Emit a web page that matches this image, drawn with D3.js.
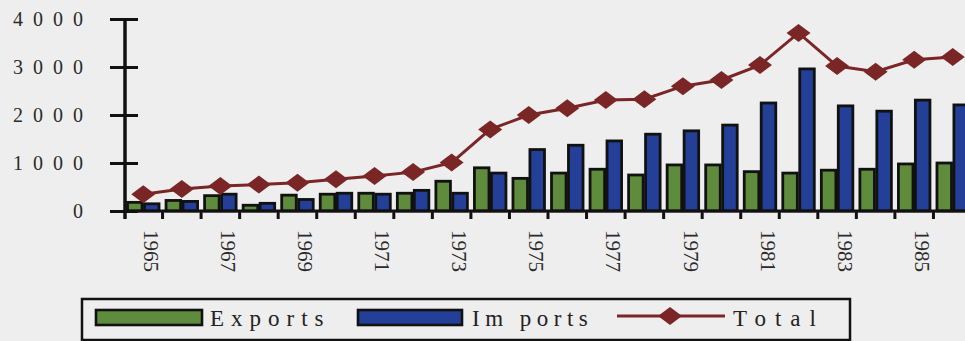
<!DOCTYPE html>
<html>
<head>
<meta charset="utf-8">
<script src="https://cdn.jsdelivr.net/npm/d3@7"></script>
<style>
  html, body { margin: 0; padding: 0; background: #eeeeee; }
  svg { display: block; }
</style>
</head>
<body>
<script>
var years = [1965, 1966, 1967, 1968, 1969, 1970, 1971, 1972, 1973, 1974, 1975,
             1976, 1977, 1978, 1979, 1980, 1981, 1982, 1983, 1984, 1985, 1986];
var exportsData = [180, 220, 320, 120, 330, 350, 370, 370, 620, 900, 680,
                   790, 870, 750, 960, 960, 820, 790, 850, 870, 980, 1000];
var importsData = [150, 200, 350, 160, 240, 370, 350, 430, 370, 790, 1280,
                   1370, 1460, 1600, 1670, 1790, 2250, 2960, 2190, 2080, 2310, 2210];
var totalData = [350, 460, 520, 550, 590, 660, 730, 810, 1010, 1700, 2000,
                 2140, 2310, 2330, 2600, 2730, 3040, 3710, 3020, 2900, 3150, 3210];
var yTicks = [0, 1000, 2000, 3000, 4000];
var seriesNames = ["Exports", "Imports"];
var legendLabels = ["Exports", "Im ports", "Total"];

var width = 965;
var height = 341;
var green = "#5f8c3c";
var blue = "#233f98";
var red = "#7a2626";

var svg = d3.select("body").append("svg")
	.attr("width", width)
	.attr("height", height);

var x0 = d3.scaleBand()
	.domain(years)
	.range([124, 972])
	.paddingInner(0.12)
	.paddingOuter(0.06);

var x1 = d3.scaleBand()
	.domain(seriesNames)
	.range([0, x0.bandwidth()]);

var y = d3.scaleLinear()
	.domain([0, 4000])
	.range([211, 19]);

var step = x0.step();

// bars
var groups = svg.selectAll("g.year")
	.data(years)
	.enter()
	.append("g")
	.attr("class", "year")
	.attr("transform", function(d) { return "translate(" + x0(d) + ",0)"; });

groups.selectAll("rect")
	.data(function(d, i) {
		return [
			{ key: "Exports", value: exportsData[i] },
			{ key: "Imports", value: importsData[i] }
		];
	})
	.enter()
	.append("rect")
	.attr("x", function(d) { return x1(d.key) + 1.2; })
	.attr("y", function(d) { return y(d.value); })
	.attr("width", x1.bandwidth() - 2.4)
	.attr("height", function(d) { return y(0) - y(d.value); })
	.attr("fill", function(d) { return d.key === "Exports" ? green : blue; })
	.attr("stroke", "#111")
	.attr("stroke-width", 2.8);

// x axis line and ticks between categories
svg.append("line")
	.attr("x1", 124).attr("x2", width)
	.attr("y1", y(0)).attr("y2", y(0))
	.attr("stroke", "#111")
	.attr("stroke-width", 3);

svg.selectAll("line.xtick")
	.data(years)
	.enter()
	.append("line")
	.attr("class", "xtick")
	.attr("x1", function(d) { return x0(d) + x0.bandwidth() + step * 0.06; })
	.attr("x2", function(d) { return x0(d) + x0.bandwidth() + step * 0.06; })
	.attr("y1", y(0))
	.attr("y2", y(0) + 8)
	.attr("stroke", "#111")
	.attr("stroke-width", 3);

// x labels, every other year, rotated
svg.selectAll("text.xlabel")
	.data(years.filter(function(d, i) { return i % 2 === 0; }))
	.enter()
	.append("text")
	.attr("class", "xlabel")
	.attr("transform", function(d) {
		return "translate(" + (x0(d) + x0.bandwidth() / 2 + 8) + ",230) rotate(90)";
	})
	.attr("dy", "0.35em")
	.attr("font-family", "Liberation Serif, Times New Roman, serif")
	.attr("font-size", "21px")
	.attr("fill", "#2a2a2a")
	.text(function(d) { return d; });

// y axis
var yAxis = d3.axisLeft(y)
	.tickValues(yTicks)
	.tickSize(15)
	.tickPadding(0)
	.tickFormat(function(d) { return d; });

var yg = svg.append("g")
	.attr("transform", "translate(125,0)")
	.call(yAxis);

yg.select(".domain").remove();
yg.selectAll(".tick line")
	.attr("x1", 13)
	.attr("x2", -15)
	.attr("stroke", "#111")
	.attr("stroke-width", 3);
yg.selectAll(".tick text")
	.attr("x", -32)
	.attr("font-family", "Liberation Serif, Times New Roman, serif")
	.attr("font-size", "20px")
	.attr("letter-spacing", "10px")
	.attr("fill", "#2a2a2a");

svg.append("line")
	.attr("x1", 125).attr("x2", 125)
	.attr("y1", y(4000) - 1).attr("y2", y(0) + 8)
	.attr("stroke", "#111")
	.attr("stroke-width", 3.5);

// total line
var line = d3.line()
	.x(function(d, i) { return x0(years[i]) + x0.bandwidth() / 2; })
	.y(function(d) { return y(d); });

svg.append("path")
	.datum(totalData)
	.attr("d", line)
	.attr("fill", "none")
	.attr("stroke", red)
	.attr("stroke-width", 3);

var diamond = "M-12,0L0,-9L12,0L0,9Z";

svg.selectAll("path.marker")
	.data(totalData)
	.enter()
	.append("path")
	.attr("class", "marker")
	.attr("d", diamond)
	.attr("transform", function(d, i) {
		return "translate(" + (x0(years[i]) + x0.bandwidth() / 2) + "," + y(d) + ")";
	})
	.attr("fill", red);

// legend
var legend = svg.append("g");

legend.append("rect")
	.attr("x", 82).attr("y", 299)
	.attr("width", 768).attr("height", 41)
	.attr("fill", "none")
	.attr("stroke", "#111")
	.attr("stroke-width", 2.5);

legend.append("rect")
	.attr("x", 96).attr("y", 310)
	.attr("width", 106).attr("height", 15)
	.attr("fill", green)
	.attr("stroke", "#111")
	.attr("stroke-width", 2.6);

legend.append("rect")
	.attr("x", 358).attr("y", 310)
	.attr("width", 104).attr("height", 15)
	.attr("fill", blue)
	.attr("stroke", "#111")
	.attr("stroke-width", 2.6);

legend.append("line")
	.attr("x1", 617).attr("x2", 725)
	.attr("y1", 316).attr("y2", 316)
	.attr("stroke", red)
	.attr("stroke-width", 3);

legend.append("path")
	.attr("d", diamond)
	.attr("transform", "translate(670,316)")
	.attr("fill", red);

var legendX = [210, 472, 733];
var legendSpacing = [7, 5.5, 9];

legend.selectAll("text")
	.data(legendLabels)
	.enter()
	.append("text")
	.attr("x", function(d, i) { return legendX[i]; })
	.attr("y", 326)
	.attr("font-family", "Liberation Serif, Times New Roman, serif")
	.attr("font-size", "23px")
	.attr("letter-spacing", function(d, i) { return legendSpacing[i] + "px"; })
	.attr("fill", "#222")
	.text(function(d) { return d; });
</script>
</body>
</html>
